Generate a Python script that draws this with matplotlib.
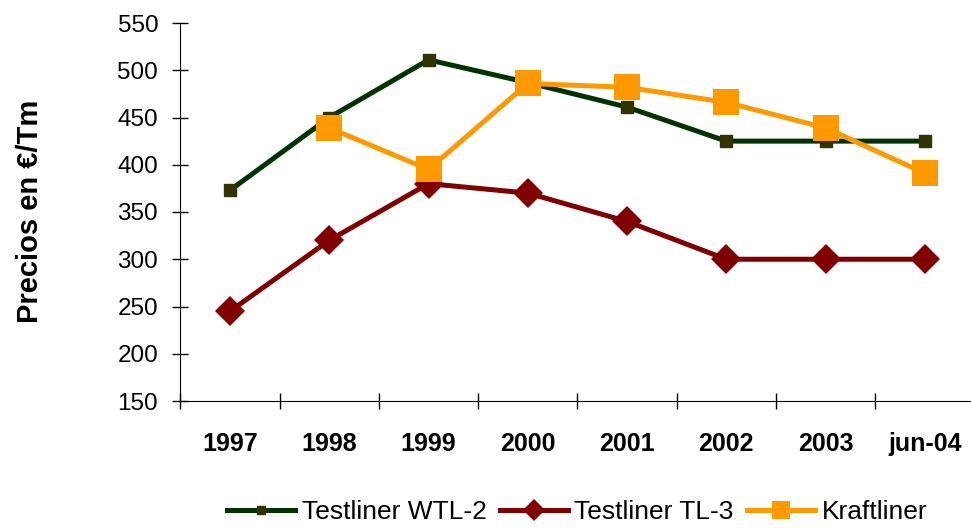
import matplotlib.pyplot as plt
import numpy as np

plt.rcParams['font.family'] = ['Liberation Sans', 'DejaVu Sans']

# Datos (precios en euros por tonelada)
years = ["1997", "1998", "1999", "2000", "2001", "2002", "2003", "jun-04"]
wtl2 = [373, 450, 511, 487, 461, 425, 425, 425]
tl3 = [245, 320, 380, 370, 340, 300, 300, 300]
kraft = [np.nan, 439, 395, 486, 482, 466, 439, 391]
yticks = [150, 200, 250, 300, 350, 400, 450, 500, 550]

fig = plt.figure(figsize=(9.71, 5.28), dpi=100)
ax = fig.add_axes([180.4 / 971, 1 - 401 / 528, 794 / 971, 378 / 528])

x = np.arange(len(years))
ax.plot(x, wtl2, "-s", color="#003300", lw=3.6, ms=9, mfc="#333300", mec="#333300",
        label="Testliner WTL-2", zorder=3)
ax.plot(x, tl3, "-D", color="#800000", lw=3.6, ms=15.5, mew=0,
        label="Testliner TL-3", zorder=4)
ax.plot(x, kraft, "-s", color="#FF9900", lw=3.6, ms=18.5, mew=0,
        label="Kraftliner", zorder=5)

ax.set_xlim(-0.5, len(years) - 0.5)
ax.set_ylim(150, 550)
ax.set_yticks(yticks)
ax.set_yticklabels([str(v) for v in yticks], fontsize=17.5)

# ticks between categories, labels on categories
ax.set_xticks(np.arange(len(years) + 1) - 0.5)
ax.set_xticklabels([])
ax.set_xticks(x, minor=True)
ax.set_xticklabels(years, minor=True, fontsize=18, fontweight="bold")
ax.tick_params(axis="x", which="minor", length=0, pad=22)
ax.tick_params(axis="x", which="major", direction="inout", length=12, width=1)
ax.tick_params(axis="y", direction="inout", length=12, width=1, pad=10)

for s in ["top", "right"]:
    ax.spines[s].set_visible(False)

fig.text(30 / 971, 1 - 211 / 528, "Precios en €/Tm", fontsize=21, fontweight="bold",
         rotation=90, ha="center", va="center")

ax.legend(loc="center", bbox_to_anchor=(577 / 971, 1 - 512 / 528), bbox_transform=fig.transFigure,
          ncol=3, frameon=False, fontsize=19, handlelength=2.6, handletextpad=0.23,
          columnspacing=0.5, markerscale=0.7, borderpad=0)

fig.savefig("out.png", dpi=100)
